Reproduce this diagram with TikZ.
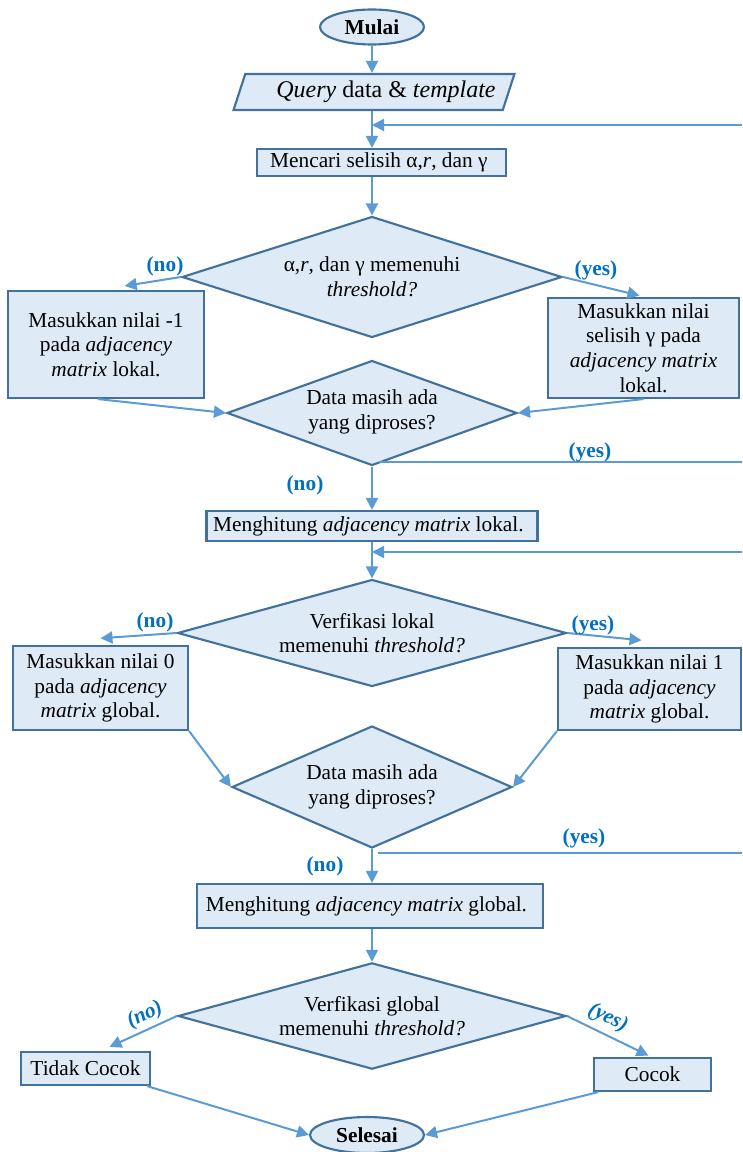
\documentclass[tikz,border=0pt]{standalone}
\usepackage{fontspec}
\setmainfont{Liberation Serif}
\usetikzlibrary{arrows.meta,positioning,shapes.geometric,calc}

\definecolor{boxfill}{HTML}{DEEBF7}
\definecolor{boxline}{HTML}{41719C}
\definecolor{arrowblue}{HTML}{5B9BD5}
\definecolor{labelblue}{HTML}{0070C0}

\tikzstyle{terminal} = [ellipse, draw=boxline, fill=boxfill,
                        line width=1.6pt, font=\bfseries, inner sep=0pt]
\tikzstyle{process} = [rectangle, draw=boxline, fill=boxfill,
                       line width=1.6pt, align=center, inner sep=2pt]
\tikzstyle{io} = [trapezium, trapezium left angle=72, trapezium right angle=108,
                  trapezium stretches=true, draw=boxline, fill=boxfill,
                  line width=1.6pt, font=\fontsize{18}{20}\selectfont]
\tikzstyle{decision} = [diamond, aspect=2.8, draw=boxline, fill=boxfill,
                        line width=1.6pt, align=center, inner sep=0pt]
\tikzstyle{flow} = [draw=arrowblue, line width=1.5pt,
                    -{Triangle[length=9pt,width=9pt]}]
\tikzstyle{plain} = [draw=arrowblue, line width=1.5pt]
\tikzstyle{answer} = [text=labelblue, font=\bfseries, inner sep=1pt]

\begin{document}
\fontsize{16}{18.5}\selectfont
\begin{tikzpicture}[x=0.75pt, y=-0.75pt]
  \useasboundingbox (0,0) rectangle (742,1152);

  \node (mulai) [terminal, minimum width=78pt, minimum height=26.25pt] at (372,27) {Mulai};

  \node (query) [io, minimum width=206.25pt, minimum height=24.75pt] at (374,92) {
    \hspace{18pt}\textit{Query} data \& \textit{template}
  };

  \node (mencari) [process, minimum width=186.75pt, minimum height=20.25pt] at (381.5,162.5) {
    Mencari selisih α,\textit{r}, dan γ
  };

  \node (cek-selisih) [decision, minimum width=285pt, minimum height=90.75pt] at (372,277) {
    α,\textit{r}, dan γ memenuhi\\
    \textit{threshold?}
  };

  \node (isi-min) [process, minimum width=147pt, minimum height=80.25pt] at (106,344.5) {
    Masukkan nilai -1\\
    pada \textit{adjacency}\\
    \textit{matrix} lokal.
  };

  \node (isi-gamma) [process, minimum width=143.25pt, minimum height=75pt] at (643.5,348) {
    Masukkan nilai\\
    selisih γ pada\\
    \textit{adjacency matrix}\\
    lokal.
  };

  \node (sisa-lokal) [decision, minimum width=217.5pt, minimum height=78.75pt] at (372,413) {
    \\[-9pt]
    Data masih ada\\
    yang diproses?
  };

  \node (hitung-lokal) [process, minimum width=248.25pt, minimum height=22.5pt] at (372,526) {
    Menghitung \textit{adjacency matrix} lokal.
  };

  \node (cek-lokal) [decision, minimum width=291.75pt, minimum height=80.25pt] at (372,633) {
    Verfikasi lokal\\
    memenuhi \textit{threshold?}
  };

  \node (isi-nol) [process, minimum width=131.25pt, minimum height=63pt] at (100.5,688) {
    Masukkan nilai 0\\
    pada \textit{adjacency}\\
    \textit{matrix} global.
  };

  \node (isi-satu) [process, minimum width=137.25pt, minimum height=61.5pt] at (649.5,689) {
    Masukkan nilai 1\\
    pada \textit{adjacency}\\
    \textit{matrix} global.
  };

  \node (sisa-global) [decision, minimum width=210pt, minimum height=91.5pt] at (372,787) {
    Data masih ada\\
    yang diproses?
  };

  \node (hitung-global) [process, minimum width=259.5pt, minimum height=33pt] at (370,906) {
    Menghitung \textit{adjacency matrix} global.
  };

  \node (cek-global) [decision, minimum width=291pt, minimum height=72.75pt] at (372,1016) {
    Verfikasi global\\
    memenuhi \textit{threshold?}
  };

  \node (tidak) [process, minimum width=96.75pt, minimum height=24.75pt] at (85.5,1068.5) {Tidak Cocok};
  \node (cocok) [process, minimum width=87.75pt, minimum height=24.75pt] at (652.5,1074.5) {Cocok};

  \node (selesai) [terminal, minimum width=85.5pt, minimum height=27pt] at (367,1135) {Selesai};

  % coordinates where the loops come back in
  \coordinate (balik1) at (742,125);
  \coordinate (balik2) at (742,462);
  \coordinate (balik3) at (742,552);
  \coordinate (balik4) at (742,853);

  \draw[flow] (mulai.south) -- (mulai.south |- query.north);
  \draw[flow] (query.south -| mulai.south) -- (mencari.north -| mulai.south);
  \draw[flow] (balik1) -- (balik1 -| mulai.south);
  \draw[flow] (mencari.south -| cek-selisih.north) -- (cek-selisih.north);

  \draw[flow] (cek-selisih.west) -- ([xshift=14pt,yshift=3pt]isi-min.north);
  \draw[flow] (cek-selisih.east) -- ([xshift=-3pt,yshift=1pt]isi-gamma.north);
  \draw[flow] ([xshift=-6pt]isi-min.south) -- (sisa-lokal.west);
  \draw[flow] (isi-gamma.south) -- (sisa-lokal.east);

  \draw[plain] ($(balik2 -| sisa-lokal.south)+(7,0)$) -- (balik2);
  \draw[flow] (sisa-lokal.south) -- (hitung-lokal.north);

  \draw[flow] (hitung-lokal.south) -- (cek-lokal.north);
  \draw[flow] (balik3) -- (balik3 -| cek-lokal.north);

  \draw[flow] (cek-lokal.west) -- ([yshift=5pt]isi-nol.north);
  \draw[flow] (cek-lokal.east) -- ([xshift=-6pt,yshift=5pt]isi-satu.north);
  \draw[flow] (isi-nol.south east) -- (sisa-global.west);
  \draw[flow] (isi-satu.south west) -- (sisa-global.east);

  \draw[plain] ($(balik4 -| sisa-global.south)+(6,0)$) -- (balik4);
  \draw[flow] (sisa-global.south) -- (sisa-global.south |- hitung-global.north);
  \draw[flow] (hitung-global.south -| cek-global.north) -- (cek-global.north);

  \draw[flow] (cek-global.west) -- ([xshift=18pt,yshift=3pt]tidak.north);
  \draw[flow] (cek-global.east) -- ([xshift=-3pt,yshift=1pt]cocok.north);
  \draw[flow] ([xshift=-3pt]tidak.south east) -- (selesai.west);
  \draw[flow] ([xshift=4pt]cocok.south west) -- (selesai.east);

  % answers
  \node (no-selisih) [answer] at (165,266) {(no)};
  \node (yes-selisih) [answer] at (596,270) {(yes)};
  \node (yes-lokal) [answer] at (590,452) {(yes)};
  \node (no-lokal) [answer] at (305,485) {(no)};
  \node (no-verif) [answer] at (155,622) {(no)};
  \node (yes-verif) [answer] at (593,625) {(yes)};
  \node (yes-global) [answer] at (584,838) {(yes)};
  \node (no-global) [answer] at (325,866) {(no)};
  \node (no-akhir) [answer, font=\bfseries\itshape, rotate=26] at (145,1015) {(no)};
  \node (yes-akhir) [answer, font=\bfseries\itshape, rotate=-27] at (608,1018) {(yes)};

\end{tikzpicture}
\end{document}
